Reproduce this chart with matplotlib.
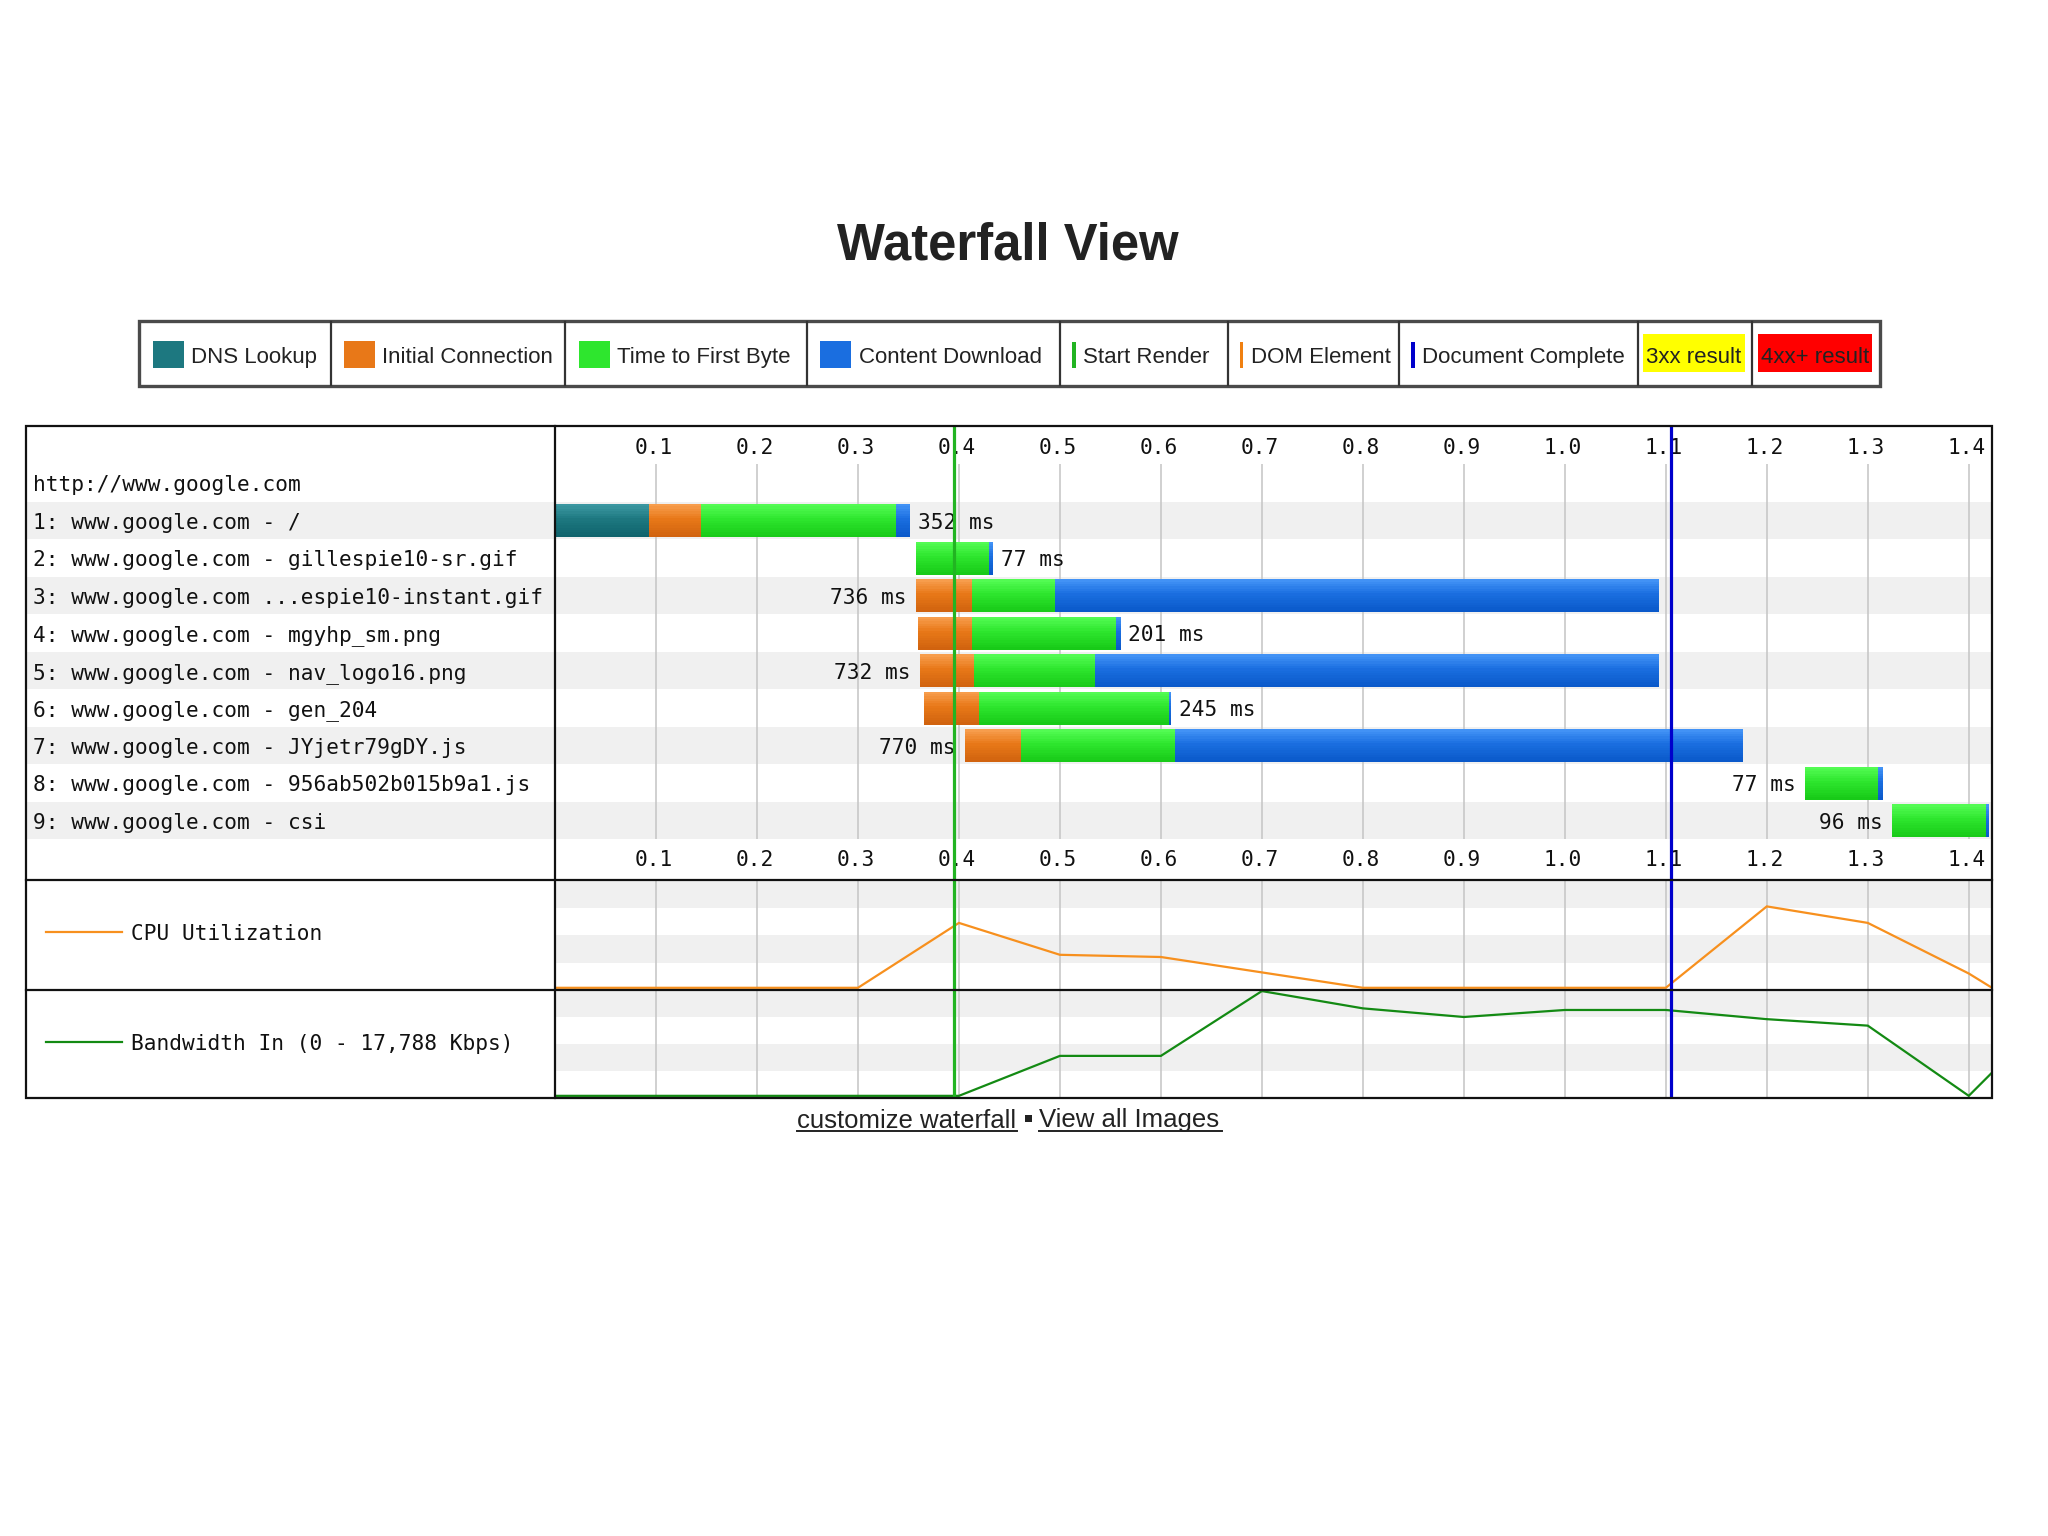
import matplotlib
matplotlib.use("Agg")
import matplotlib.pyplot as plt
from matplotlib.patches import Rectangle
from matplotlib.lines import Line2D
from matplotlib.colors import to_rgb

# ---------------- data ----------------
page_url = "http://www.google.com"
request_labels = [
    "1: www.google.com - /",
    "2: www.google.com - gillespie10-sr.gif",
    "3: www.google.com ...espie10-instant.gif",
    "4: www.google.com - mgyhp_sm.png",
    "5: www.google.com - nav_logo16.png",
    "6: www.google.com - gen_204",
    "7: www.google.com - JYjetr79gDY.js",
    "8: www.google.com - 956ab502b015b9a1.js",
    "9: www.google.com - csi",
]
start_ms = [0, 357, 357, 359, 361, 365, 406, 1238, 1324]
dns_ms = [93, 0, 0, 0, 0, 0, 0, 0, 0]
connect_ms = [52, 0, 56, 54, 54, 55, 55, 0, 0]
ttfb_ms = [193, 73, 82, 143, 120, 188, 153, 72, 93]
download_ms = [14, 4, 598, 4, 558, 2, 562, 5, 3]

start_render_ms = 395
doc_complete_ms = 1105

tick_values = [0.1, 0.2, 0.3, 0.4, 0.5, 0.6, 0.7, 0.8, 0.9, 1.0, 1.1, 1.2, 1.3, 1.4]
tick_labels = ["0.1", "0.2", "0.3", "0.4", "0.5", "0.6", "0.7", "0.8", "0.9", "1.0",
               "1.1", "1.2", "1.3", "1.4"]
x_max = 1.423

util_times = [0.0, 0.1, 0.2, 0.3, 0.4, 0.5, 0.6, 0.7, 0.8, 0.9, 1.0, 1.1, 1.2, 1.3, 1.4, 1.423]
cpu_pct = [2, 2, 2, 2, 61, 32, 30, 16, 2, 2, 2, 2, 76, 61, 15, 2]
bw_pct = [2, 2, 2, 2, 2, 39, 39, 99, 83, 75, 81.5, 81.5, 73, 67, 2, 23.5]

cpu_label = "CPU Utilization"
bw_label = "Bandwidth In (0 - 17,788 Kbps)"

legend_labels = ["DNS Lookup", "Initial Connection", "Time to First Byte", "Content Download",
                 "Start Render", "DOM Element", "Document Complete", "3xx result", "4xx+ result"]

title = "Waterfall View"
link_left = "customize waterfall"
link_right = "View all Images"

# ---------------- styles ----------------
W, H = 2048, 1536
MONO = "DejaVu Sans Mono"
SANS = "Liberation Sans"
phase_colors = {
    "dns": ("#1d7880", "#3e9aa4", "#0e626b"),
    "connect": ("#e87818", "#f8a050", "#cf620e"),
    "ttfb": ("#2ee62e", "#56fd56", "#16c816"),
    "download": ("#1a6ee0", "#4595f7", "#0958c8"),
}
band_gray = "#f0f0f0"
grid_gray = "#c4c4c4"
render_green = "#22b422"
complete_blue = "#0000cc"
BL = 0.215  # baseline offset (rows) for monospace text


def fx(x):
    return x / W


def fy(y):
    return 1 - y / H


def blend(c1, c2, a):
    r1, r2 = to_rgb(c1), to_rgb(c2)
    return tuple(r1[k] + (r2[k] - r1[k]) * a for k in range(3))


fig = plt.figure(figsize=(W / 100, H / 100), dpi=100)
fig.patch.set_facecolor("white")

# Title
fig.text(fx(1008), fy(259.5), title, ha="center", va="baseline", fontsize=36.5,
         fontweight="bold", family=SANS, color="#222222")

# ---------------- legend ----------------
leg_top, leg_bot = 321, 386
cell_edges = [139, 330.5, 565, 806.7, 1060, 1227.8, 1399, 1638, 1752.3, 1879.6]
fig.patches.append(Rectangle((fx(139), fy(leg_bot)), fx(1879.6 - 139), (leg_bot - leg_top) / H,
                             transform=fig.transFigure, fill=False, edgecolor="#4a4a4a", lw=2.4))
for xe in cell_edges[1:-1]:
    fig.lines.append(Line2D([fx(xe), fx(xe)], [fy(leg_top + 1), fy(leg_bot - 1)],
                            transform=fig.transFigure, color="#333333", lw=1.6))
ybase = 363
swatch_cols = [phase_colors["dns"][0], phase_colors["connect"][0],
               phase_colors["ttfb"][0], phase_colors["download"][0]]
for i in range(4):
    x0 = cell_edges[i] + 13.5
    fig.patches.append(Rectangle((fx(x0), fy(368)), fx(31), 27 / H, transform=fig.transFigure,
                                 facecolor=swatch_cols[i], edgecolor="none"))
    fig.text(fx(x0 + 38.5), fy(ybase), legend_labels[i], ha="left", va="baseline",
             fontsize=16, family=SANS, color="#222222")
marker_cols = [render_green, "#f08010", complete_blue]
for j in range(3):
    i = 4 + j
    x0 = cell_edges[i] + 12
    fig.patches.append(Rectangle((fx(x0), fy(368)), fx(3.5), 26 / H, transform=fig.transFigure,
                                 facecolor=marker_cols[j], edgecolor="none"))
    fig.text(fx(x0 + 11), fy(ybase), legend_labels[i], ha="left", va="baseline",
             fontsize=16, family=SANS, color="#222222")
for j, (bx0, bx1, col) in enumerate([(1643, 1744.5, "#ffff00"), (1758, 1872, "#ff0000")]):
    fig.patches.append(Rectangle((fx(bx0), fy(371.6)), fx(bx1 - bx0), 37.2 / H,
                                 transform=fig.transFigure, facecolor=col, edgecolor="none"))
    fig.text(fx((bx0 + bx1) / 2), fy(ybase), legend_labels[7 + j], ha="center", va="baseline",
             fontsize=16, family=SANS, color="#222222")

# ---------------- main box geometry ----------------
box_l, box_r, box_t = 26, 1992, 426
div_x = 555
wf_bot, cpu_bot, bw_bot = 880, 990, 1098
row_lo, row_hi = -1.525, 10.58   # row units spanning box_t .. wf_bot

ax_lab = fig.add_axes([fx(box_l), fy(wf_bot), fx(div_x - box_l), (wf_bot - box_t) / H])
ax_wf = fig.add_axes([fx(div_x), fy(wf_bot), fx(box_r - div_x), (wf_bot - box_t) / H])
ax_cpu = fig.add_axes([fx(div_x), fy(cpu_bot), fx(box_r - div_x), (cpu_bot - wf_bot) / H])
ax_bw = fig.add_axes([fx(div_x), fy(bw_bot), fx(box_r - div_x), (bw_bot - cpu_bot) / H])
ax_cpul = fig.add_axes([fx(box_l), fy(cpu_bot), fx(div_x - box_l), (cpu_bot - wf_bot) / H])
ax_bwl = fig.add_axes([fx(box_l), fy(bw_bot), fx(div_x - box_l), (bw_bot - cpu_bot) / H])

for ax in (ax_lab, ax_wf, ax_cpu, ax_bw, ax_cpul, ax_bwl):
    ax.set_axis_off()
    ax.set_facecolor("none")

n = len(request_labels)
rows = list(range(1, n + 1))

for ax in (ax_lab, ax_wf):
    ax.set_ylim(row_hi, row_lo)
    for r in rows:
        if r % 2 == 1:
            ax.axhspan(r - 0.5, r + 0.5, color=band_gray, lw=0, zorder=0)
ax_lab.set_xlim(0, div_x - box_l)
ax_wf.set_xlim(0, x_max)

# label column
ax_lab.text(6.7, 0 + BL, page_url, ha="left", va="baseline", fontsize=15.2, family=MONO,
            color="#111111")
for r, lab in zip(rows, request_labels):
    ax_lab.text(6.7, r + BL, lab, ha="left", va="baseline", fontsize=15.2, family=MONO,
                color="#111111")

# grid + tick labels
ax_wf.vlines(tick_values, -0.5, 9.5, color=grid_gray, lw=1.1, zorder=1)
for tv, tl in zip(tick_values, tick_labels):
    for ry in (-1, 10):
        ax_wf.text(tv - 0.002, ry + BL, tl, ha="center", va="baseline", fontsize=15.2,
                   family=MONO, color="#111111", zorder=2)

# bars (vertical gradient built from thin horizontal strips)
bar_h = 0.88
n_strips = 14


def draw_seg(ax, row, left, width, cols):
    mid, light, dark = cols
    top = row - bar_h / 2
    sh = bar_h / n_strips
    for k in range(n_strips):
        s = (k + 0.5) / n_strips
        if s < 0.45:
            c = blend(light, mid, s / 0.45)
        else:
            c = blend(mid, dark, (s - 0.45) / 0.55)
        ax.barh(top + sh * (k + 0.5), width, height=sh * 1.05, left=left, color=c, lw=0,
                zorder=3)


for i, r in enumerate(rows):
    t = start_ms[i] / 1000.0
    for key, dur in (("dns", dns_ms[i]), ("connect", connect_ms[i]),
                     ("ttfb", ttfb_ms[i]), ("download", download_ms[i])):
        if dur > 0:
            draw_seg(ax_wf, r, t, dur / 1000.0, phase_colors[key])
            t += dur / 1000.0
    total = dns_ms[i] + connect_ms[i] + ttfb_ms[i] + download_ms[i]
    end = (start_ms[i] + total) / 1000.0
    if end > 0.75 * x_max:
        ax_wf.text(start_ms[i] / 1000.0 - 0.009, r + BL, f"{total} ms", ha="right",
                   va="baseline", fontsize=15.2, family=MONO, color="#111111", zorder=4)
    else:
        ax_wf.text(end + 0.0075, r + BL, f"{total} ms", ha="left", va="baseline",
                   fontsize=15.2, family=MONO, color="#111111", zorder=4)

# utilisation panels
for ax, vals, col in ((ax_cpu, cpu_pct, "#f7901e"), (ax_bw, bw_pct, "#138a13")):
    ax.set_xlim(0, x_max)
    ax.set_ylim(0, 100)
    ax.axhspan(75, 100, color=band_gray, lw=0, zorder=0)
    ax.axhspan(25, 50, color=band_gray, lw=0, zorder=0)
    ax.vlines(tick_values, 0, 100, color=grid_gray, lw=1.1, zorder=1)
    ax.plot(util_times, vals, color=col, lw=1.6, zorder=3, solid_joinstyle="miter")

# start render / document complete
for ax in (ax_wf, ax_cpu, ax_bw):
    ax.axvline(start_render_ms / 1000.0, color=render_green, lw=2.3, zorder=5)
    ax.axvline(doc_complete_ms / 1000.0, color=complete_blue, lw=2.3, zorder=5)

# utilisation legends
for ax, lab, col, ypx, hpx, bot in ((ax_cpul, cpu_label, "#f7901e", 932.3, 110, cpu_bot),
                                    (ax_bwl, bw_label, "#138a13", 1041.7, 108, bw_bot)):
    ax.set_xlim(0, div_x - box_l)
    ax.set_ylim(0, 1)
    yy = (bot - ypx) / hpx
    ax.plot([45.7 - box_l, 122 - box_l], [yy, yy], color=col, lw=1.6)
    ax.text(130.6 - box_l, yy - 8 / hpx, lab, ha="left", va="baseline", fontsize=15.2,
            family=MONO, color="#111111")

# outer frame and dividers
fig.patches.append(Rectangle((fx(box_l), fy(bw_bot)), fx(box_r - box_l), (bw_bot - box_t) / H,
                             transform=fig.transFigure, fill=False, edgecolor="#111111",
                             lw=1.6, zorder=10))
for yy in (wf_bot, cpu_bot):
    fig.lines.append(Line2D([fx(box_l), fx(box_r)], [fy(yy), fy(yy)], transform=fig.transFigure,
                            color="#111111", lw=1.6, zorder=10))
fig.lines.append(Line2D([fx(div_x), fx(div_x)], [fy(box_t), fy(bw_bot)], transform=fig.transFigure,
                        color="#111111", lw=1.6, zorder=10))

# links
fig.text(fx(796.7), fy(1127.5), link_left, ha="left", va="baseline", fontsize=18.5, family=SANS,
         color="#222222")
fig.lines.append(Line2D([fx(796.7), fx(1016.7)], [fy(1130.5), fy(1130.5)],
                        transform=fig.transFigure, color="#222222", lw=1.4))
fig.patches.append(Rectangle((fx(1025), fy(1122)), fx(6.5), 7 / H, transform=fig.transFigure,
                             facecolor="#222222", edgecolor="none"))
fig.text(fx(1039.3), fy(1127.5), link_right, ha="left", va="baseline", fontsize=18.5, family=SANS,
         color="#222222")
fig.lines.append(Line2D([fx(1039.3), fx(1222.3)], [fy(1130.5), fy(1130.5)],
                        transform=fig.transFigure, color="#222222", lw=1.4))

fig.savefig("out.png", dpi=100, facecolor="white")
